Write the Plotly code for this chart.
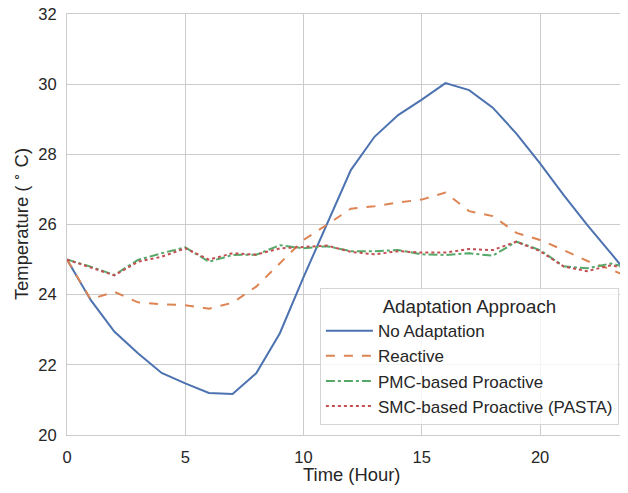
import plotly.graph_objects as go

hours = list(range(25))
no_adapt = [25.0, 23.85, 22.95, 22.33, 21.77, 21.47, 21.2, 21.17, 21.76, 22.9, 24.5, 26.05,
            27.55, 28.5, 29.12, 29.56, 30.03, 29.83, 29.33, 28.59, 27.74, 26.84, 25.98, 25.18, 24.35]
reactive = [25.0, 23.87, 24.08, 23.78, 23.73, 23.7, 23.6, 23.77, 24.23, 24.89, 25.56, 26.0,
            26.45, 26.52, 26.63, 26.71, 26.91, 26.38, 26.24, 25.76, 25.56, 25.27, 24.96, 24.72, 24.42]
pmc = [25.0, 24.8, 24.56, 24.99, 25.18, 25.35, 24.94, 25.13, 25.14, 25.41, 25.32, 25.38,
       25.24, 25.24, 25.27, 25.15, 25.13, 25.18, 25.11, 25.51, 25.27, 24.81, 24.75, 24.89, 24.72]
smc = [25.0, 24.78, 24.55, 24.94, 25.08, 25.32, 25.0, 25.18, 25.14, 25.32, 25.36, 25.4,
       25.22, 25.15, 25.24, 25.2, 25.2, 25.3, 25.27, 25.51, 25.24, 24.8, 24.67, 24.84, 24.7]

series = [
    ("No Adaptation", no_adapt, "#4C72B0", "solid"),
    ("Reactive", reactive, "#DD8452", "dash"),
    ("PMC-based Proactive", pmc, "#55A868", "dashdot"),
    ("SMC-based Proactive (PASTA)", smc, "#C44E52", "dot"),
]

fig = go.Figure()
for name, vals, color, dash in series:
    fig.add_trace(go.Scatter(x=hours, y=vals, mode="lines", name=name,
                             line=dict(color=color, width=2, dash=dash)))

font = "Liberation Sans, Arial, sans-serif"
# the page body adds an 8px margin; size the figure so the page does not scroll
fig.update_layout(
    width=612, height=477,
    margin=dict(l=59, r=0, t=6, b=50),
    paper_bgcolor="white", plot_bgcolor="white",
    font=dict(family=font, size=16, color="#262626"),
    showlegend=True,
    legend=dict(
        title=dict(text="Adaptation Approach", side="top center", font=dict(size=18.7)),
        x=0.998, y=0.024, xanchor="right", yanchor="bottom",
        bgcolor="rgba(255,255,255,0.8)", bordercolor="#d5d5d5", borderwidth=1,
        font=dict(size=17, color="#262626"), itemwidth=47,
    ),
)
fig.add_annotation(text="Time (Hour)", xref="paper", yref="paper", x=0.515, y=-0.094,
                   xanchor="center", yanchor="middle", showarrow=False, borderpad=0,
                   font=dict(size=18.4, color="#262626"))
fig.add_annotation(text="Temperature ( <sup>∘</sup> C)", xref="paper", yref="paper",
                   x=-0.086, y=0.502, xanchor="center", yanchor="middle", textangle=-90,
                   showarrow=False, borderpad=0, font=dict(size=18.4, color="#262626"))
fig.update_xaxes(
    range=[0, 23.38], tickvals=[0, 5, 10, 15, 20], automargin=False,
    showgrid=True, gridcolor="#cccccc", gridwidth=1.25,
    showline=True, linecolor="#cccccc", linewidth=1.25, mirror=True,
    zeroline=False, ticks="", tickfont=dict(size=16.5), ticklabelstandoff=7,
)
fig.update_yaxes(
    range=[20, 32], tickvals=[20, 22, 24, 26, 28, 30, 32], automargin=False,
    showgrid=True, gridcolor="#cccccc", gridwidth=1.25,
    showline=True, linecolor="#cccccc", linewidth=1.25, mirror=True,
    zeroline=False, ticks="", tickfont=dict(size=16.5), ticklabelstandoff=6,
    ticklabeloverflow="allow",
)
fig.write_html("out.html")
